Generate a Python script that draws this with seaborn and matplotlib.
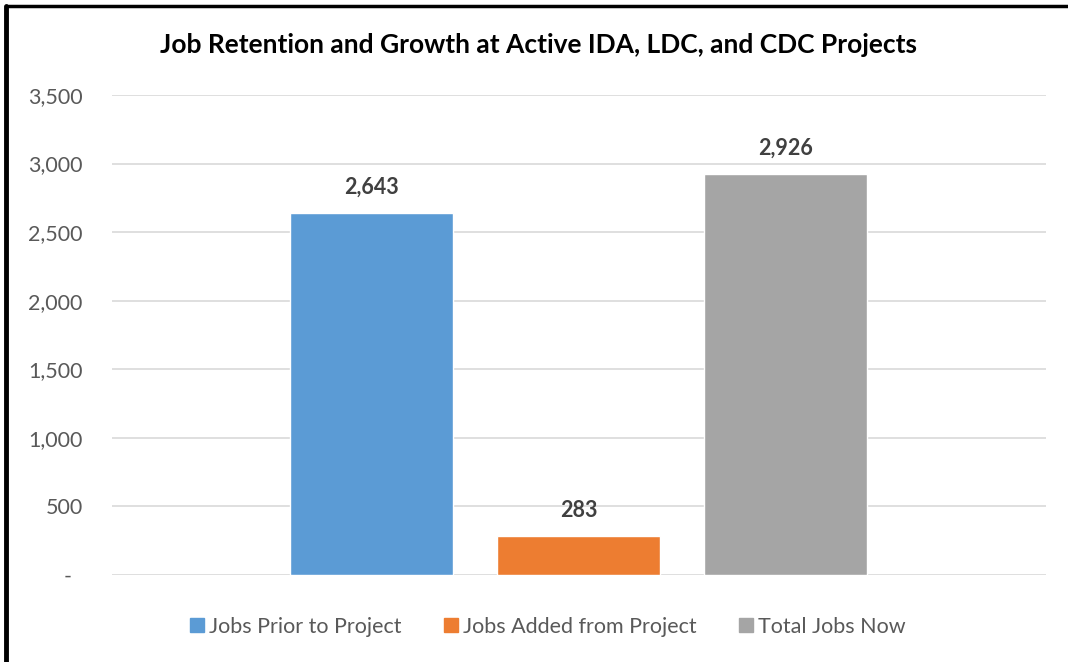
import matplotlib
matplotlib.use("Agg")
import matplotlib.pyplot as plt
import seaborn as sns
import pandas as pd
from matplotlib.lines import Line2D
from matplotlib.ticker import FuncFormatter

series = ["Jobs Prior to Project", "Jobs Added from Project", "Total Jobs Now"]
values = [2643, 283, 2926]
colors = ["#5B9BD5", "#ED7D31", "#A5A5A5"]
title = "Job Retention and Growth at Active IDA, LDC, and CDC Projects"
yticks = [0, 500, 1000, 1500, 2000, 2500, 3000, 3500]

sns.set_theme(style="white")
plt.rcParams['font.family'] = ['Lato', 'DejaVu Sans']

df = pd.DataFrame({"series": series, "value": values})

fig = plt.figure(figsize=(10.68, 6.62), dpi=100)
ax = fig.add_axes([112/1068, 1-575/662, (1046-112)/1068, (575-95)/662])

sns.barplot(data=df, x="series", y="value", hue="series", palette=colors,
            order=series, hue_order=series, dodge=False, width=0.787,
            legend=False, ax=ax, saturation=1)

ax.set_xlim(-1.254, 3.256)
ax.set_ylim(0, 3500)
ax.set_yticks(yticks)
ax.yaxis.set_major_formatter(FuncFormatter(lambda v, p: "-  " if v == 0 else f"{int(v):,}"))
ax.grid(axis="y", color="#D9D9D9", linewidth=1.2)
ax.set_axisbelow(True)
for s in ax.spines.values():
    s.set_visible(False)
ax.set_xticks([])
ax.set_xlabel("")
ax.set_ylabel("")
ax.tick_params(axis="y", length=0, pad=21, labelsize=15.5, labelcolor="#595959")

for i, v in enumerate(values):
    ax.annotate(f"{v:,}", (i, v), xytext=(0, 13.5), textcoords="offset points",
                ha="center", va="baseline", fontsize=15.5, fontweight="bold", color="#404040")

fig.text(539/1068, 1-45/662, title, ha="center", va="center", fontsize=19,
         fontweight="bold", color="black")

handles = [Line2D([0], [0], marker="s", linestyle="", markersize=10,
                  markerfacecolor=c, markeredgecolor=c) for c in colors]
fig.legend(handles, series, loc="center", bbox_to_anchor=(547/1068, 1-627/662),
           ncol=3, frameon=False, fontsize=15.5, labelcolor="#595959",
           handletextpad=0.16, columnspacing=1.9, handlelength=0.8)

# border lines top and left
fig.add_artist(Line2D([6/1068, 6/1068], [0, 1-6/662], transform=fig.transFigure,
                      color="black", linewidth=3.5))
fig.add_artist(Line2D([6/1068, 1], [1-6/662, 1-6/662], transform=fig.transFigure,
                      color="black", linewidth=2.5))

fig.savefig("out.png", dpi=100)
